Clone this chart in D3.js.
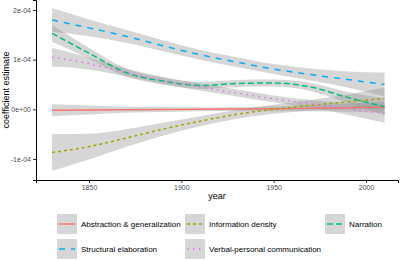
<!DOCTYPE html>
<html>
<head>
<meta charset="utf-8">
<script src="https://cdn.jsdelivr.net/npm/d3@7"></script>
<style>
  body { margin: 0; background: #fff; }
  svg { display: block; font-family: "Liberation Sans", Arial, sans-serif; }
</style>
</head>
<body>
<div id="chart"></div>
<script>
// fitted smooth values, in units of 1e-4
const years = [1830, 1850, 1870, 1890, 1910, 1930, 1950, 1970, 1990, 2010];
const seriesNames = ["Abstraction & generalization", "Information density", "Narration",
    "Structural elaboration", "Verbal-personal communication"];
const abstraction = [-0.02, -0.015, -0.01, -0.005, 0, 0.005, 0.012, 0.02, 0.03, 0.04];
const abstractionSe = [0.12, 0.09, 0.06, 0.05, 0.04, 0.04, 0.05, 0.06, 0.08, 0.11];
const infoDensity = [-0.87, -0.75, -0.58, -0.40, -0.24, -0.10, 0.0, 0.08, 0.15, 0.22];
const infoDensitySe = [0.37, 0.26, 0.18, 0.13, 0.10, 0.09, 0.09, 0.11, 0.15, 0.22];
const narration = [1.53, 1.13, 0.74, 0.57, 0.48, 0.52, 0.53, 0.45, 0.24, 0.05];
const narrationSe = [0.17, 0.11, 0.08, 0.07, 0.07, 0.07, 0.07, 0.08, 0.11, 0.17];
const structural = [1.80, 1.64, 1.47, 1.28, 1.10, 0.95, 0.81, 0.70, 0.60, 0.50];
const structuralSe = [0.24, 0.17, 0.13, 0.11, 0.10, 0.10, 0.10, 0.12, 0.16, 0.24];
const verbal = [1.05, 0.92, 0.74, 0.58, 0.45, 0.33, 0.21, 0.11, 0.01, -0.08];
const verbalSe = [0.19, 0.12, 0.08, 0.07, 0.07, 0.07, 0.07, 0.08, 0.12, 0.19];

const xTicks = [1850, 1900, 1950, 2000];
const yTicks = [-1e-4, 0, 1e-4, 2e-4];
const yTickLabels = ["-1e-04", "0e+00", "1e-04", "2e-04"];

const colors = ["#F8766D", "#A3A500", "#00BF7D", "#00B0F6", "#E76BF3"];
const dashes = ["none", "3,3", "6,3", "6,6", "1.5,4.5"];

const fits = [abstraction, infoDensity, narration, structural, verbal];
const ses = [abstractionSe, infoDensitySe, narrationSe, structuralSe, verbalSe];

let width = 400, height = 260;
let svg = d3.select("#chart").append("svg")
    .attr("width", width)
    .attr("height", height);

let x = d3.scaleLinear().domain([1821.3, 2017.3]).range([36, 398]);
let y = d3.scaleLinear().domain([-1.423e-4, 2.201e-4]).range([180, 0]);

let data = seriesNames.map((name, i) => ({
    name: name,
    color: colors[i],
    dash: dashes[i],
    points: years.map((yr, j) => ({year: yr, v: fits[i][j] * 1e-4, se: ses[i][j] * 1e-4}))
}));

// confidence bands
let area = d3.area()
    .curve(d3.curveMonotoneX)
    .x(d => x(d.year))
    .y0(d => y(d.v - d.se))
    .y1(d => y(d.v + d.se));

svg.append("g").selectAll("path.band")
    .data(data)
    .enter().append("path")
    .attr("class", "band")
    .attr("d", d => area(d.points))
    .attr("fill", "#999999")
    .attr("fill-opacity", 0.4);

let line = d3.line()
    .curve(d3.curveMonotoneX)
    .x(d => x(d.year))
    .y(d => y(d.v));

svg.append("g").selectAll("path.fit")
    .data(data)
    .enter().append("path")
    .attr("class", "fit")
    .attr("d", d => line(d.points))
    .attr("fill", "none")
    .attr("stroke", d => d.color)
    .attr("stroke-width", 1.5)
    .attr("stroke-dasharray", d => d.dash);

// axes
let xAxis = svg.append("g")
    .attr("transform", "translate(0,180)")
    .call(d3.axisBottom(x).tickValues(xTicks).tickSize(3).tickPadding(2).tickFormat(d3.format("d")));
let yAxis = svg.append("g")
    .attr("transform", "translate(36,0)")
    .call(d3.axisLeft(y).tickValues(yTicks).tickSize(3).tickPadding(2)
        .tickFormat((d, i) => yTickLabels[i]));

[xAxis, yAxis].forEach(a => {
    a.select(".domain").attr("stroke", "#000").attr("stroke-width", 1);
    a.selectAll(".tick line").attr("stroke", "#333");
    a.selectAll(".tick text").attr("fill", "#4D4D4D").style("font-size", "7px")
        .style("font-family", "Liberation Sans, Arial, sans-serif");
});

svg.append("text")
    .attr("x", 217).attr("y", 199)
    .attr("text-anchor", "middle")
    .style("font-size", "9px")
    .text("year");

svg.append("text")
    .attr("transform", "translate(9,90) rotate(-90)")
    .attr("text-anchor", "middle")
    .style("font-size", "9px")
    .text("coefficient estimate");

// legend
let legendPos = [[57, 214], [185, 214], [325, 214], [57, 239], [185, 239]];
let legend = svg.append("g").selectAll("g.key")
    .data(data)
    .enter().append("g")
    .attr("class", "key")
    .attr("transform", (d, i) => `translate(${legendPos[i][0]},${legendPos[i][1]})`);

legend.append("rect")
    .attr("width", 20).attr("height", 20)
    .attr("fill", "#D6D6D6");
legend.append("line")
    .attr("x1", 2).attr("x2", 18)
    .attr("y1", 10).attr("y2", 10)
    .attr("stroke", d => d.color)
    .attr("stroke-width", 1.5)
    .attr("stroke-dasharray", d => d.dash);
legend.append("text")
    .attr("x", 24).attr("y", 13)
    .style("font-size", "8px")
    .attr("fill", "#000")
    .text(d => d.name);
</script>
</body>
</html>
